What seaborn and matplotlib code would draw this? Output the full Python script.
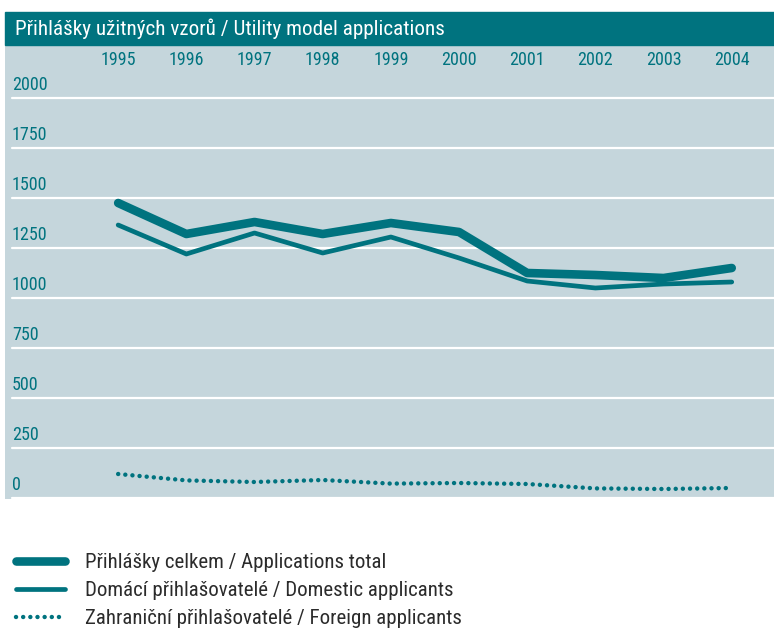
import numpy as np
import pandas as pd
import matplotlib
matplotlib.use('Agg')
import matplotlib.pyplot as plt
import matplotlib.transforms as mtransforms
from matplotlib.patches import Rectangle
from matplotlib.lines import Line2D
import seaborn as sns

# Data
years = [1995, 1996, 1997, 1998, 1999, 2000, 2001, 2002, 2003, 2004]
total = [1475, 1320, 1380, 1320, 1375, 1330, 1125, 1115, 1100, 1150]
domestic = [1365, 1220, 1325, 1225, 1305, 1200, 1085, 1050, 1070, 1080]
foreign = [120, 88, 80, 90, 72, 75, 70, 48, 45, 50]
y_ticks = [0, 250, 500, 750, 1000, 1250, 1500, 1750, 2000]

title = 'Přihlášky užitných vzorů / Utility model applications'
labels = ['Přihlášky celkem / Applications total',
          'Domácí přihlašovatelé / Domestic applicants',
          'Zahraniční přihlašovatelé / Foreign applicants']

TEAL = '#00737f'
BG = '#c5d6dc'
DOTS = (0, (0.01, 1.6))

sns.set_style('white', {'axes.facecolor': BG})
plt.rcParams['font.family'] = ['Roboto Condensed', 'DejaVu Sans']

df = pd.DataFrame({'year': years, 'total': total,
                   'domestic': domestic, 'foreign': foreign})

W, H = 774, 630
fig = plt.figure(figsize=(W / 100, H / 100), dpi=100)

# title band
fig.patches.append(Rectangle((5 / W, (H - 45) / H), (W - 5) / W, 33 / H,
                             transform=fig.transFigure, color=TEAL, zorder=0))
fig.text(15 / W, (H - 28.5) / H, title, color='white', fontsize=15.2,
         va='center', ha='left')

ax = fig.add_axes([5 / W, (H - 499) / H, (W - 5) / W, 454 / H])
for s in ax.spines.values():
    s.set_visible(False)

for y in y_ticks:
    ax.axhline(y, xmin=7 / (W - 5), xmax=1, color='white', lw=1.6, zorder=1)

sns.lineplot(data=df, x='year', y='total', ax=ax, color=TEAL, lw=6.2,
             solid_capstyle='round', zorder=3)
sns.lineplot(data=df, x='year', y='domestic', ax=ax, color=TEAL, lw=3.4,
             solid_capstyle='round', zorder=3)
sns.lineplot(data=df, x='year', y='foreign', ax=ax, color=TEAL, lw=3.2,
             linestyle=DOTS, dash_capstyle='round', zorder=3)

ax.set_xlim(1993.34, 2004.62)
ax.set_ylim(-5, 2265)
ax.set_xlabel('')
ax.set_ylabel('')

ax.set_xticks(years)
ax.set_xticklabels([str(y) for y in years])
ax.tick_params(axis='x', top=True, labeltop=True, bottom=False,
               labelbottom=False, length=0, pad=-4.5, labelsize=13,
               labelcolor=TEAL)
for lab in ax.get_xticklabels():
    lab.set_va('top')

ax.set_yticks([])
off = mtransforms.ScaledTranslation(7 / 100, 4 / 100, fig.dpi_scale_trans)
trans = mtransforms.blended_transform_factory(ax.transAxes, ax.transData) + off
for y in y_ticks:
    ax.text(0, y, str(y), transform=trans, color=TEAL, fontsize=13,
            ha='left', va='bottom')

handles = [Line2D([], [], color=TEAL, lw=6.2, solid_capstyle='round'),
           Line2D([], [], color=TEAL, lw=3.4, solid_capstyle='round'),
           Line2D([], [], color=TEAL, lw=3.2, linestyle=DOTS,
                  dash_capstyle='round')]
fig.legend(handles, labels, loc='upper left',
           bbox_to_anchor=(16 / W, (H - 553) / H), frameon=False,
           fontsize=15, labelcolor='#2b2b2b', handlelength=2.35,
           handletextpad=0.95, labelspacing=0.44, borderaxespad=0,
           borderpad=0)

fig.savefig('out.png', dpi=100)
